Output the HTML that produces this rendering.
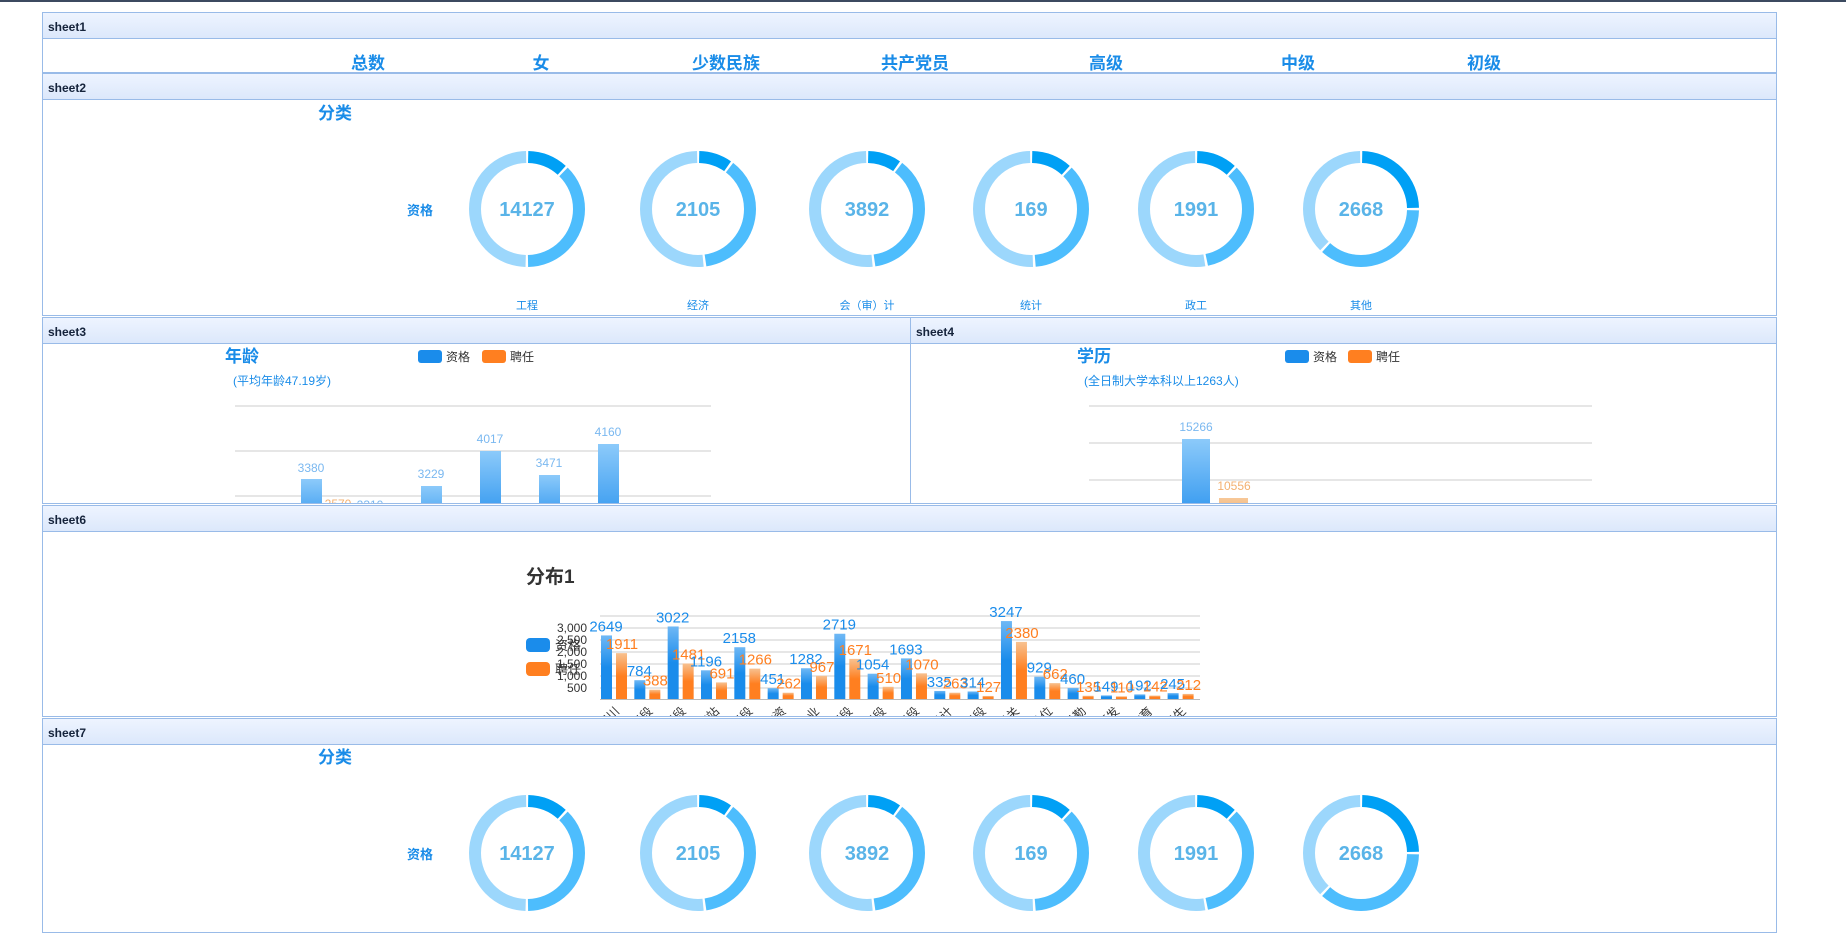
<!DOCTYPE html>
<html><head><meta charset="utf-8">
<style>
*{margin:0;padding:0;box-sizing:border-box}
body{width:1846px;height:927px;background:#fff;position:relative;overflow:hidden;font-family:"Liberation Sans","Noto Sans CJK SC",sans-serif}
.topline{position:absolute;left:0;top:0;width:1846px;height:2px;background:#3c4a60}
.panel{position:absolute;border:1px solid #99bbe8;overflow:hidden;background:#fff}
.hdr{position:absolute;left:0;right:0;top:0;height:26px;background:linear-gradient(#eef4ff,#dce8fb);border-bottom:1px solid #99bbe8;font-size:12px;font-weight:bold;color:#15233b;padding:7px 0 0 5px}
svg{position:absolute;left:0;top:0}
</style></head><body>
<div class="topline"></div>

<div class="panel" style="left:42px;top:12px;width:1735px;height:61px"><div class="hdr">sheet1</div></div>
<div class="panel" style="left:42px;top:73px;width:1735px;height:243px"><div class="hdr">sheet2</div></div>
<div class="panel" style="left:42px;top:317px;width:869px;height:187px"><div class="hdr">sheet3</div></div>
<div class="panel" style="left:910px;top:317px;width:867px;height:187px"><div class="hdr">sheet4</div></div>
<div class="panel" style="left:42px;top:505px;width:1735px;height:212px"><div class="hdr">sheet6</div></div>
<div class="panel" style="left:42px;top:718px;width:1735px;height:215px"><div class="hdr">sheet7</div></div>

<svg id="s" width="1846" height="927" font-family="Liberation Sans, Noto Sans CJK SC, sans-serif">
<defs>
<linearGradient id="gb" x1="0" y1="0" x2="0" y2="1"><stop offset="0" stop-color="#8ccafa"/><stop offset="1" stop-color="#3a9cf0"/></linearGradient>
<linearGradient id="gb2" x1="0" y1="0" x2="0" y2="1"><stop offset="0" stop-color="#6fb8f5"/><stop offset=".5" stop-color="#1a8ceb"/><stop offset="1" stop-color="#1a8ceb"/></linearGradient>
<linearGradient id="go2" x1="0" y1="0" x2="0" y2="1"><stop offset="0" stop-color="#f7c190"/><stop offset=".5" stop-color="#ff7f20"/><stop offset="1" stop-color="#ff7f20"/></linearGradient>
<linearGradient id="go" x1="0" y1="0" x2="0" y2="1"><stop offset="0" stop-color="#f7c898"/><stop offset="1" stop-color="#f3b070"/></linearGradient>
<clipPath id="c3"><rect x="43" y="344" width="867" height="159"/></clipPath>
<clipPath id="c4"><rect x="911" y="344" width="865" height="159"/></clipPath>
<clipPath id="c6"><rect x="43" y="532" width="1733" height="184"/></clipPath>
</defs>
<g font-size="17" fill="#1a8ce8" font-weight="bold" text-anchor="middle">
<text x="368" y="69">总数</text><text x="541" y="69">女</text><text x="726" y="69">少数民族</text><text x="915" y="69">共产党员</text><text x="1106" y="69">高级</text><text x="1298" y="69">中级</text><text x="1484" y="69">初级</text>
</g>
<g id="d2"></g><g id="d7"></g>

<g clip-path="url(#c3)">
<text x="225" y="362" font-size="17" font-weight="bold" fill="#1a8ce8">年龄</text>
<rect x="418" y="350" width="24" height="13" rx="3" fill="#1a8ceb"/><text x="446" y="361" font-size="12" fill="#333">资格</text>
<rect x="482" y="350" width="24" height="13" rx="3" fill="#ff7f20"/><text x="510" y="361" font-size="12" fill="#333">聘任</text>
<text x="233" y="385" font-size="12" fill="#1a8ce8">(平均年龄47.19岁)</text>
<g stroke="#ccc"><line x1="235" y1="406" x2="711" y2="406"/><line x1="235" y1="451" x2="711" y2="451"/><line x1="235" y1="496" x2="711" y2="496"/></g>
<g fill="url(#gb)"><rect x="301" y="479" width="21" height="40"/><rect x="421" y="486" width="21" height="40"/><rect x="480" y="451" width="21" height="60"/><rect x="539" y="475" width="21" height="40"/><rect x="598" y="444" width="21" height="70"/></g>
<g font-size="12" fill="#7ab8f0" text-anchor="middle"><text x="311" y="472">3380</text><text x="431" y="478">3229</text><text x="490" y="443">4017</text><text x="549" y="467">3471</text><text x="608" y="436">4160</text></g>
<text x="338" y="508" font-size="12" fill="#f3b070" text-anchor="middle">2570</text>
<text x="370" y="509" font-size="12" fill="#7ab8f0" text-anchor="middle">2310</text>
</g>

<g clip-path="url(#c4)">
<text x="1077" y="362" font-size="17" font-weight="bold" fill="#1a8ce8">学历</text>
<rect x="1285" y="350" width="24" height="13" rx="3" fill="#1a8ceb"/><text x="1313" y="361" font-size="12" fill="#333">资格</text>
<rect x="1348" y="350" width="24" height="13" rx="3" fill="#ff7f20"/><text x="1376" y="361" font-size="12" fill="#333">聘任</text>
<text x="1084" y="385" font-size="12" fill="#1a8ce8">(全日制大学本科以上1263人)</text>
<g stroke="#ccc"><line x1="1089" y1="406" x2="1592" y2="406"/><line x1="1089" y1="443" x2="1592" y2="443"/><line x1="1089" y1="480" x2="1592" y2="480"/></g>
<rect x="1182" y="439" width="28" height="70" fill="url(#gb)"/>
<rect x="1219" y="498" width="29" height="20" fill="url(#go)"/>
<text x="1196" y="431" font-size="12" fill="#7ab8f0" text-anchor="middle">15266</text>
<text x="1234" y="490" font-size="12" fill="#f3b070" text-anchor="middle">10556</text>
</g>

<g clip-path="url(#c6)" id="g6">
<text x="526" y="583" font-size="19" font-weight="bold" fill="#333">分布1</text>
<rect x="526" y="638" width="24" height="14" rx="4" fill="#1a8ceb"/>
<rect x="526" y="662" width="24" height="14" rx="4" fill="#ff7f20"/>
<text x="555" y="650" font-size="13" fill="#333">资格</text>
<text x="555" y="674" font-size="13" fill="#333">聘任</text>
</g>
</svg>
<script>
var NS="http://www.w3.org/2000/svg";
function el(p,t,a,txt){var e=document.createElementNS(NS,t);for(var k in a)e.setAttribute(k,a[k]);if(txt!=null)e.textContent=txt;p.appendChild(e);return e;}
function donuts(g,dy){
 var G=document.getElementById(g);
 el(G,'text',{x:318,y:119+dy,'font-size':17,'font-weight':'bold',fill:'#1a8ce8'},'分类');
 el(G,'text',{x:407,y:215+dy,'font-size':13,'font-weight':'bold',fill:'#1a8ce8'},'资格');
 var cx=[527,698,867,1031,1196,1361],v=['14127','2105','3892','169','1991','2668'],lab=['工程','经济','会（审）计','统计','政工','其他'];
 var fr=[[.12,.50],[.10,.48],[.10,.48],[.12,.49],[.12,.47],[.25,.62]];
 var cy=209+dy,r=52,C=2*Math.PI*r;
 for(var i=0;i<6;i++){
  var segs=[[0,fr[i][0],'#00a0f5'],[fr[i][0],fr[i][1],'#4dbdfd'],[fr[i][1],1,'#9cd7fc']];
  segs.forEach(function(sg){var a=sg[0]*C+1.2,l=(sg[1]-sg[0])*C-2.4;
   el(G,'circle',{cx:cx[i],cy:cy,r:r,fill:'none',stroke:sg[2],'stroke-width':12,'stroke-dasharray':l+' '+(C-l),'stroke-dashoffset':-a,transform:'rotate(-90 '+cx[i]+' '+cy+')'});});
  el(G,'text',{x:cx[i],y:cy+7,'font-size':20,'font-weight':'bold',fill:'#5ab4e8','text-anchor':'middle'},v[i]);
  if(dy==0)el(G,'text',{x:cx[i],y:309,'font-size':11,fill:'#1a8ce8','text-anchor':'middle'},lab[i]);
 }
}
donuts('d2',0);donuts('d7',644);
var G=document.getElementById('g6');
[616,628,640,652,664,676,688].forEach(function(y){el(G,'line',{x1:600,y1:y,x2:1200,y2:y,stroke:'#ccc'});});
el(G,'line',{x1:600,y1:699.5,x2:1200,y2:699.5,stroke:'#bbb'});
['3,000','2,500','2,000','1,500','1,000','500'].forEach(function(t,i){el(G,'text',{x:587,y:632+i*12,'font-size':12,fill:'#333','text-anchor':'end'},t);});
var b=[2649,784,3022,1196,2158,451,1282,2719,1054,1693,335,314,3247,929,460,149,192,245],o=[1911,388,1481,691,1266,262,967,1671,510,1070,263,127,2380,662,135,110,142,212];
var xl=['四川','标段','标段','车站','标段','物资','企业','标段','标段','标段','设计','标段','机关','单位','后勤','研发','教育','卫生'];
var k=0.024;
for(var i=0;i<18;i++){var x=600+i*33.33;
 var hb=b[i]*k,ho=o[i]*k;
 el(G,'rect',{x:x+1,y:699-hb,width:11,height:hb,fill:'url(#gb2)'});
 el(G,'rect',{x:x+16,y:699-ho,width:11,height:ho,fill:'url(#go2)'});
 el(G,'text',{x:x+6,y:699-hb-4,'font-size':15,fill:'#1a8ceb','text-anchor':'middle'},b[i]);
 el(G,'text',{x:x+22,y:699-ho-4,'font-size':15,fill:'#ff7f20','text-anchor':'middle'},o[i]);
 el(G,'text',{x:x+20,y:712,'font-size':12,fill:'#333','text-anchor':'end',transform:'rotate(-45 '+(x+20)+' 712)'},xl[i]);
}
</script>
</body></html>
